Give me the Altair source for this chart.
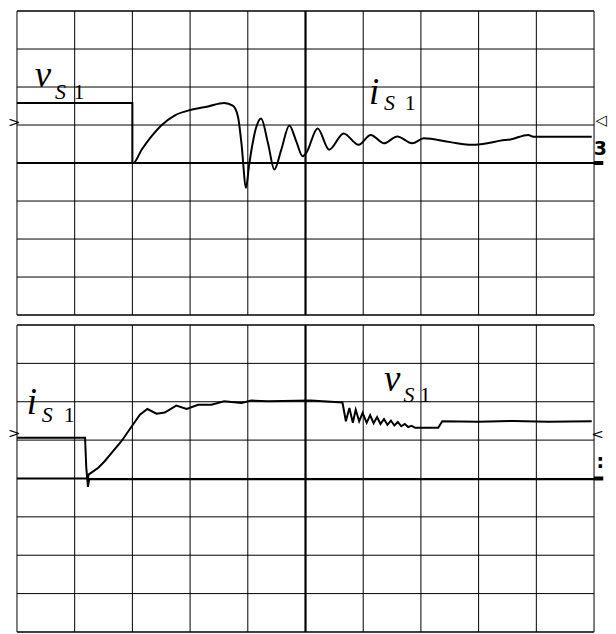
import altair as alt
import pandas as pd

# ---- grid (divisions) ----
grid_x = [0, 1, 2, 3, 4, 5, 6, 7, 8, 9, 10]
grid_y = [-4, -3, -2, -1, 0, 1, 2, 3, 4]

# ---- top panel: v_S1 and i_S1 (turn-on) ----
top_v_x = [0.0, 2.0, 2.0, 10.0]
top_v_y = [1.58, 1.58, 0.0, 0.0]
top_i_x = [0.0, 2.015, 2.16, 2.33, 2.50, 2.73, 3.02, 3.31, 3.59, 3.74,
           3.83, 3.89, 3.97, 4.02, 4.15, 4.23, 4.35, 4.46, 4.58, 4.72,
           4.84, 4.95, 5.01, 5.21, 5.41, 5.66, 5.92, 6.13, 6.36, 6.59,
           6.85, 7.05, 7.51, 7.89, 8.15, 8.38, 8.55, 8.86, 8.95, 9.96]
top_i_y = [0.0, 0.0, 0.35, 0.70, 0.99, 1.25, 1.40, 1.49, 1.58, 1.51,
           1.22, 0.52, -0.65, -0.08, 0.96, 1.17, 0.52, -0.17, 0.35, 0.99,
           0.57, 0.18, 0.26, 0.91, 0.35, 0.78, 0.48, 0.74, 0.52, 0.70,
           0.52, 0.65, 0.55, 0.48, 0.52, 0.59, 0.62, 0.74, 0.69, 0.69]

# ---- bottom panel: i_S1 and v_S1 (turn-off) ----
bot_i_x = [0.0, 1.18, 1.20, 1.23, 1.25, 10.0]
bot_i_y = [1.06, 1.06, 0.30, -0.22, -0.02, -0.02]
bot_v_x = [0.0, 1.23, 1.24, 1.41, 1.52, 1.64, 1.81, 1.99, 2.13, 2.26,
           2.42, 2.56, 2.76, 2.94, 3.14, 3.37, 3.59, 3.89, 4.06, 4.35,
           5.09, 5.64, 5.70, 5.76, 5.82, 5.87, 5.93, 5.99, 6.06, 6.12,
           6.18, 6.24, 6.30, 6.36, 6.42, 6.48, 6.54, 6.60, 6.66, 6.72,
           6.78, 6.84, 6.90, 7.30, 7.37, 8.00, 8.60, 9.20, 9.96]
bot_v_y = [0.0, 0.0, 0.10, 0.28, 0.45, 0.67, 0.97, 1.36, 1.66, 1.81,
           1.69, 1.72, 1.90, 1.81, 1.92, 1.92, 2.01, 1.97, 2.03, 2.01,
           2.03, 1.98, 1.49, 1.84, 1.45, 1.79, 1.49, 1.71, 1.45, 1.65,
           1.44, 1.60, 1.42, 1.55, 1.40, 1.51, 1.38, 1.47, 1.36, 1.42,
           1.34, 1.37, 1.32, 1.32, 1.49, 1.48, 1.50, 1.48, 1.49]

# ---- labels (text, x, y in divisions) ----
top_big = [("v", 0.31, 2.0), ("i", 6.10, 1.56)]
top_sub = [("S", 0.66, 1.69), ("S", 6.36, 1.40)]
top_one = [("1", 0.98, 1.69), ("1", 6.72, 1.40)]
bot_big = [("i", 0.17, 1.69), ("v", 6.36, 2.29)]
bot_sub = [("S", 0.43, 1.48), ("S", 6.70, 2.0)]
bot_one = [("1", 0.81, 1.48), ("1", 6.98, 2.0)]

# ---- scope markers ----
top_thin = [(">", -0.045, 1.09), ("\u25c1", 10.12, 1.12)]
top_bold = [("3", 10.11, 0.38)]
bot_thin = [(">", -0.045, 1.19), ("<", 10.06, 1.17)]
bot_bold = [(":", 10.11, 0.44)]
stub_x = [10.0, 10.16]

X_DOM = [-0.121, 10.242]
W = 600


def tdf(xs, ys):
    return pd.DataFrame({"x": xs, "y": ys, "k": list(range(len(xs)))})


def lab_df(items):
    return pd.DataFrame({"t": [a for a, _, _ in items],
                         "x": [b for _, b, _ in items],
                         "y": [c for _, _, c in items]})


def panel(ydom, h, traces, big, sub, one, thin, bold):
    xs = alt.Scale(domain=X_DOM, nice=False, zero=False)
    ys = alt.Scale(domain=ydom, nice=False, zero=False)
    X = lambda f="x": alt.X(f"{f}:Q", scale=xs, axis=None)
    Y = lambda f="y": alt.Y(f"{f}:Q", scale=ys, axis=None)

    vgrid = alt.Chart(pd.DataFrame({"x": grid_x, "y": [grid_y[0]] * len(grid_x),
                                    "y2": [grid_y[-1]] * len(grid_x)})).mark_rule(color="#000").encode(
        x=X(), y=Y(), y2="y2:Q",
        strokeWidth=alt.condition("datum.x == 5", alt.value(2.2),
                                  alt.value(1.0)))
    hgrid = alt.Chart(pd.DataFrame({"y": grid_y, "x": [grid_x[0]] * len(grid_y),
                                    "x2": [grid_x[-1]] * len(grid_y)})).mark_rule(color="#000").encode(
        x=X(), x2="x2:Q", y=Y(),
        strokeWidth=alt.condition("datum.y == -4 || datum.y == 4", alt.value(1.5),
                                  alt.value(1.0)))
    layers = [vgrid, hgrid]
    for xs_, ys_, interp in traces:
        layers.append(alt.Chart(tdf(xs_, ys_)).mark_line(
            color="#000", strokeWidth=2.0, interpolate=interp).encode(
            x=X(), y=Y(), order="k:Q"))
    stub = alt.Chart(pd.DataFrame({"x": [stub_x[0]], "x2": [stub_x[1]], "y": [0]})).mark_rule(
        color="#000", strokeWidth=4).encode(x=X(), x2="x2:Q", y=Y())
    layers.append(stub)
    layers.append(alt.Chart(lab_df(big)).mark_text(
        font="Liberation Serif", fontStyle="italic", fontSize=37, align="left",
        baseline="alphabetic", color="#000").encode(x=X(), y=Y(), text="t:N"))
    layers.append(alt.Chart(lab_df(sub)).mark_text(
        font="Liberation Serif", fontStyle="italic", fontSize=22, align="left",
        baseline="alphabetic", color="#000").encode(x=X(), y=Y(), text="t:N"))
    layers.append(alt.Chart(lab_df(one)).mark_text(
        font="Liberation Serif", fontSize=22, align="left",
        baseline="alphabetic", color="#000").encode(x=X(), y=Y(), text="t:N"))
    layers.append(alt.Chart(lab_df(thin)).mark_text(
        font="DejaVu Sans", fontSize=15, align="center", baseline="middle",
        color="#000").encode(x=X(), y=Y(), text="t:N"))
    layers.append(alt.Chart(lab_df(bold)).mark_text(
        font="DejaVu Sans", fontSize=19, fontWeight="bold", align="center",
        baseline="middle", color="#000").encode(x=X(), y=Y(), text="t:N"))
    return alt.layer(*layers).properties(width=W, height=h)


top = panel([-4.052, 4.026], 308,
            [(top_v_x, top_v_y, "linear"), (top_i_x, top_i_y, "monotone")],
            top_big, top_sub, top_one, top_thin, top_bold)
bot = panel([-4.052, 4.156], 316,
            [(bot_i_x, bot_i_y, "linear"), (bot_v_x, bot_v_y, "linear")],
            bot_big, bot_sub, bot_one, bot_thin, bot_bold)

chart = alt.vconcat(top, bot, spacing=2).properties(
    padding={"left": 0, "top": 0, "right": 0, "bottom": 0},
    background="white",
).configure_view(stroke=None)

chart.save("out.html", embed_options={"renderer": "svg", "actions": False})
